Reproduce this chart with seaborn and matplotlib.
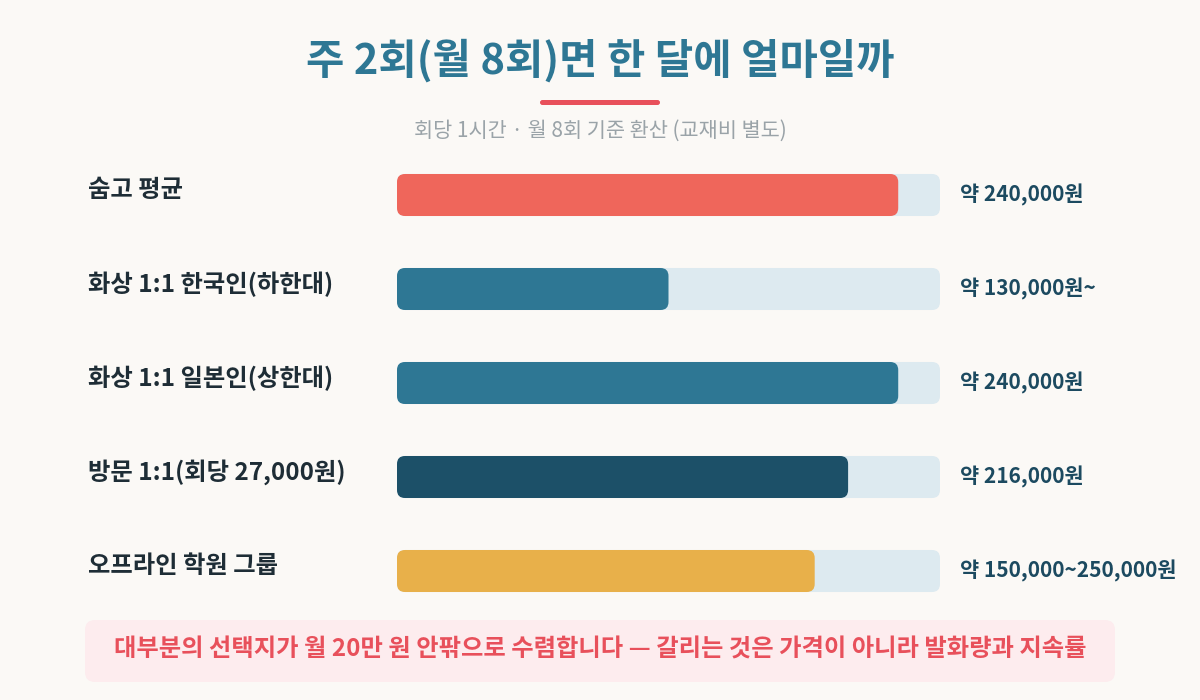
import pandas as pd
import matplotlib.pyplot as plt
import seaborn as sns
from matplotlib.patches import FancyBboxPatch
from matplotlib.transforms import IdentityTransform

# 데이터
labels = ["숨고 평균", "화상 1:1 한국인(하한대)", "화상 1:1 일본인(상한대)",
          "방문 1:1(회당 27,000원)", "오프라인 학원 그룹"]
values = [240000, 130000, 240000, 216000, 200000]
value_labels = ["약 240,000원", "약 130,000원~", "약 240,000원",
                "약 216,000원", "약 150,000~250,000원"]
scale_max = 260000

title = "주 2회(월 8회)면 한 달에 얼마일까"
subtitle = "회당 1시간 · 월 8회 기준 환산 (교재비 별도)"
footer = "대부분의 선택지가 월 20만 원 안팎으로 수렴합니다 — 갈리는 것은 가격이 아니라 발화량과 지속률"

# 색상
BG = "#FBF9F6"
TRACK = "#DDEAF0"
bar_colors = {
    labels[0]: "#EF665B",
    labels[1]: "#2E7794",
    labels[2]: "#2E7794",
    labels[3]: "#1C5068",
    labels[4]: "#E8B04A",
}
TITLE_C = "#2E7794"
LABEL_C = "#1E2D36"
VALUE_C = "#1C4A60"
ACCENT = "#E8505B"

sns.set_theme(style="white")
plt.rcParams['font.family'] = ['Noto Sans CJK KR', 'DejaVu Sans']

W, H = 1200, 700
fig = plt.figure(figsize=(12, 7), dpi=100, facecolor=BG)


def px(x, y):
    """픽셀 좌표(위에서부터) -> figure 비율"""
    return x / W, 1 - y / H


df = pd.DataFrame({"label": labels, "value": values,
                   "track": [scale_max] * len(labels)})

ax = fig.add_axes([397 / W, 82 / H, 543 / W, 470 / H])
ax.set_facecolor("none")
sns.barplot(data=df, x="track", y="label", color=TRACK, width=0.447,
            orient="h", ax=ax, saturation=1)
sns.barplot(data=df, x="value", y="label", hue="label", palette=bar_colors,
            width=0.447, orient="h", ax=ax, legend=False, saturation=1)
ax.set_xlim(0, scale_max)
ax.set_ylim(len(labels) - 0.5, -0.5)
ax.axis("off")

# 막대를 둥근 모서리로 교체
fig.canvas.draw()
renderer = fig.canvas.get_renderer()
for p in list(ax.patches):
    bb = p.get_window_extent(renderer)
    rounded = FancyBboxPatch((bb.x0, bb.y0), bb.width, bb.height,
                             boxstyle="round,pad=0,rounding_size=8",
                             transform=IdentityTransform(),
                             facecolor=p.get_facecolor(), edgecolor="none")
    fig.add_artist(rounded)
    p.remove()

# 행 라벨과 값
row_y = [195, 289, 383, 477, 571]
for lab, val, y in zip(labels, value_labels, row_y):
    fig.text(*px(88, y - 5), lab, ha="left", va="center", fontsize=17.5,
             fontweight="bold", color=LABEL_C)
    fig.text(*px(960, y), val, ha="left", va="center", fontsize=15,
             fontweight="bold", color=VALUE_C)

# 제목
fig.text(*px(600, 61), title, ha="center", va="center", fontsize=30,
         fontweight="bold", color=TITLE_C)
fig.add_artist(FancyBboxPatch((540, H - 105), 120, 5,
                              boxstyle="round,pad=0,rounding_size=2.5",
                              transform=IdentityTransform(),
                              facecolor=ACCENT, edgecolor="none"))
fig.text(*px(600, 131), subtitle, ha="center", va="center", fontsize=15,
         color="#9AA3A8")

# 하단 메시지 박스
fig.add_artist(FancyBboxPatch((85, H - 682), 1030, 62,
                              boxstyle="round,pad=0,rounding_size=10",
                              transform=IdentityTransform(),
                              facecolor="#FDECEE", edgecolor="none"))
fig.text(*px(600, 650), footer, ha="center", va="center", fontsize=17.5,
         fontweight="bold", color=ACCENT)

fig.savefig("out.png", dpi=100, facecolor=BG)
